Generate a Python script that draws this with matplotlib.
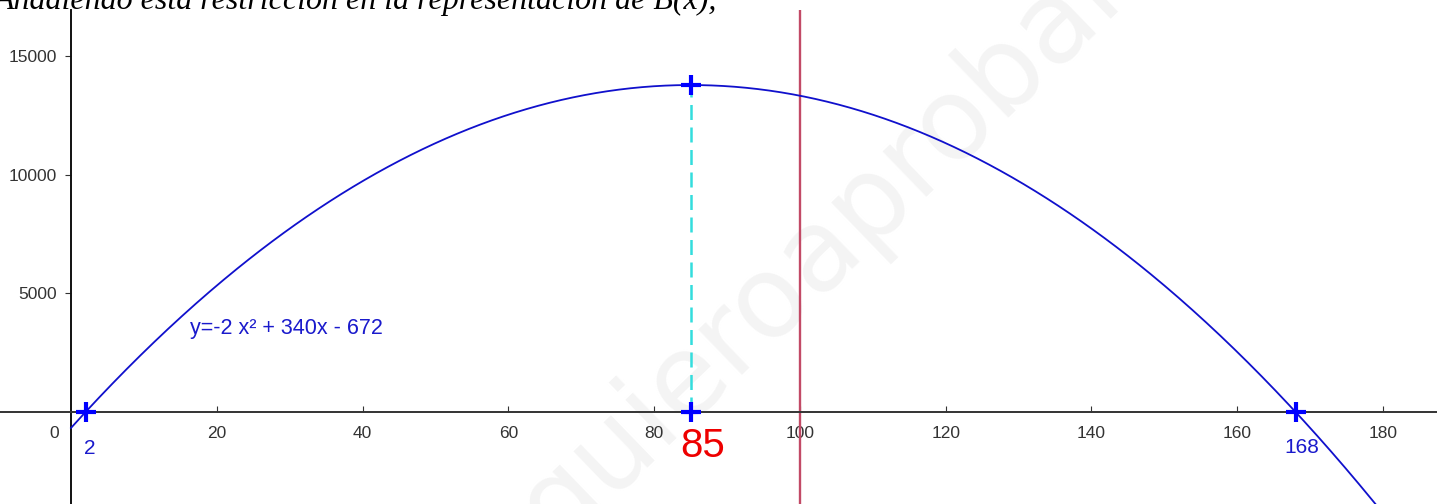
import numpy as np
import matplotlib
matplotlib.use("Agg")
import matplotlib.pyplot as plt

# B(x) = -2x^2 + 340x - 672
coef = [-2, 340, -672]
roots = [2, 168]
vertex_x = 85
restriccion_x = 100
xticks = [20, 40, 60, 80, 100, 120, 140, 160, 180]
yticks = [5000, 10000, 15000]

def B(x):
    return coef[0] * x**2 + coef[1] * x + coef[2]

vertex_y = B(vertex_x)

fig = plt.figure(figsize=(14.37, 5.04), dpi=100)
ax = fig.add_axes([0, 0, 1, 1 - 10 / 504])
ax.set_xlim(-9.74, 187.4)
ax.set_ylim(-3877, 16940)

# watermark
ax.text(103.4, 7037, "quieroaprobar", fontsize=82, color="#f4f4f4", rotation=44,
        ha="center", va="center", family="DejaVu Sans", zorder=0)

# axes through origin
for s in ["top", "right"]:
    ax.spines[s].set_visible(False)
ax.spines["left"].set_position(("data", 0))
ax.spines["bottom"].set_position(("data", 0))
ax.spines["left"].set_linewidth(1.4)
ax.spines["bottom"].set_linewidth(1.4)
ax.spines["left"].set_color("#111111")
ax.spines["bottom"].set_color("#333333")

ax.set_xticks(xticks)
ax.set_yticks(yticks)
ax.tick_params(axis="x", direction="in", length=4, pad=10, labelsize=12.5,
               labelcolor="#333333", color="#333333")
ax.tick_params(axis="y", direction="out", length=4, pad=6, labelsize=12.5,
               labelcolor="#333333", color="#333333")
for lab in ax.get_xticklabels() + ax.get_yticklabels():
    lab.set_family("Liberation Sans")
ax.text(-2.3, -900, "0", fontsize=12.5, color="#333333", ha="center", va="center",
        family="Liberation Sans")

# curve
xs = np.linspace(0, 190, 600)
ax.plot(xs, B(xs), color="#1010cc", lw=1.3, zorder=3)

# restriction line x = 100
ax.axvline(restriccion_x, color="#c24a66", lw=1.7, zorder=2)

# dashed line at vertex
ax.plot([vertex_x, vertex_x], [0, vertex_y], color="#33dddd", lw=1.8,
        ls=(0, (6, 3)), zorder=2)

# points
px = [roots[0], vertex_x, vertex_x, roots[1]]
py = [0, 0, vertex_y, 0]
ax.plot(px, py, ls="none", marker="+", ms=15, mew=3, color="#0000ff", zorder=5)

ax.text(roots[0] + 0.6, -1530, "2", fontsize=15, color="#1a1acc", ha="center",
        va="center", family="Liberation Sans")
ax.text(roots[1] + 0.8, -1480, "168", fontsize=15, color="#1a1acc", ha="center",
        va="center", family="Liberation Sans")
ax.text(86.7, -1450, "85", fontsize=29, color="#ee0000", ha="center",
        va="center", family="Liberation Sans")
ax.text(16.3, 3520, "y=-2 x² + 340x - 672", fontsize=15.5, color="#1a1acc",
        ha="left", va="center", family="Liberation Sans")

# cut-off sentence at the top
fig.text(-0.004, 1 - 9 / 504, "Añadiendo esta restricción en la representación de B(x),",
         fontsize=23, style="italic", family="Liberation Serif", ha="left",
         va="baseline", color="black")

fig.savefig("out.png", dpi=100)
